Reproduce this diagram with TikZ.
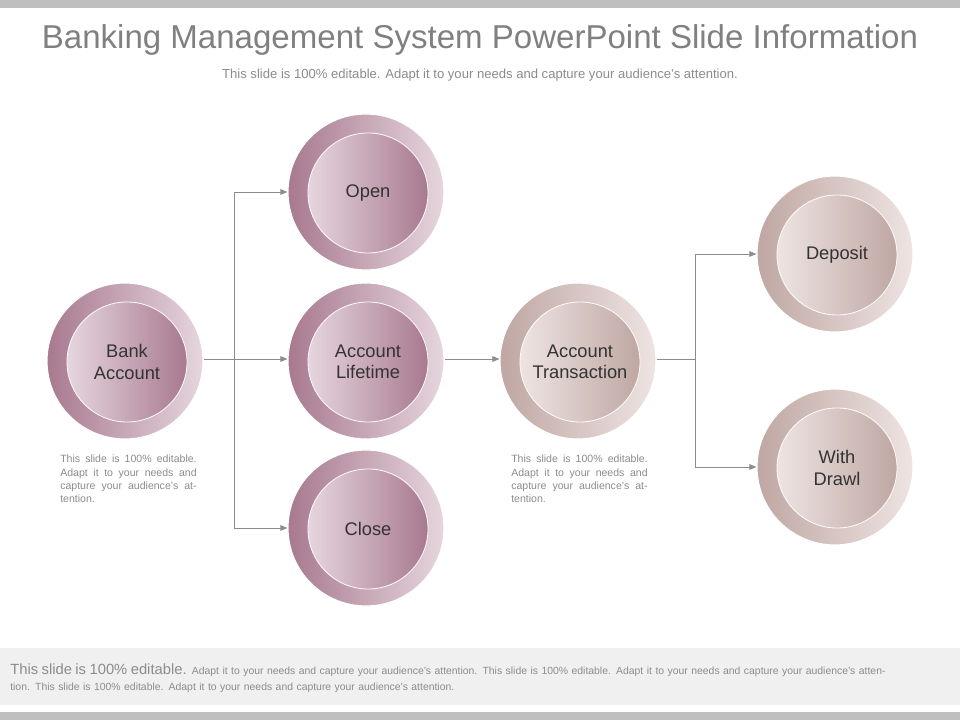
\documentclass[tikz,border=0pt]{standalone}
\usepackage{fontspec}
\setmainfont{Liberation Sans}
\usetikzlibrary{positioning}
\usetikzlibrary{arrows.meta}
\definecolor{plumD}{HTML}{A8798F}
\definecolor{plumL}{HTML}{E6D6DE}
\definecolor{tanD}{HTML}{BFA7A3}
\definecolor{tanL}{HTML}{EEE4E2}
\definecolor{txtG}{HTML}{8C8C8C}
\tikzstyle{ringP}=[circle, minimum size=156*0.025cm, draw=white, line width=0.8pt, left color=plumD, right color=plumL]
\tikzstyle{coreP}=[circle, minimum size=120*0.025cm, draw=white!80!plumL, line width=0.6pt, left color=plumL, right color=plumD, align=center, font=\fontsize{13}{15}\selectfont, text=black!80]
\tikzstyle{ringT}=[circle, minimum size=156*0.025cm, draw=white, line width=0.8pt, left color=tanD, right color=tanL]
\tikzstyle{coreT}=[circle, minimum size=120*0.025cm, draw=white!80!tanL, line width=0.6pt, left color=tanL, right color=tanD, align=center, font=\fontsize{13}{15}\selectfont, text=black!80]
\tikzstyle{link}=[draw=black!45, line width=0.6pt]
\tikzstyle{larrow}=[link, -{Triangle[length=5pt,width=4pt]}]
\tikzstyle{note}=[text width=97pt, align=justify, font=\fontsize{7.5}{9.5}\selectfont, text=txtG, inner sep=0pt]

\begin{document}
\begin{tikzpicture}[x=0.025cm, y=-0.025cm]
      \useasboundingbox (0,0) rectangle (960,720);
      \fill[white] (0,0) rectangle (960,720);
      \fill[black!25] (0,0) rectangle (960,8);
      \fill[black!25] (0,712) rectangle (960,720);
      \fill[black!6] (0,648) rectangle (960,705);
      % heading
      \node (title) at (480,40) {\fontsize{23.5}{28}\selectfont\color{black!50}Banking Management System PowerPoint Slide Information};
      \node (sub) at (480,75) {\fontsize{9.3}{11}\selectfont\color{txtG}This slide is 100\% editable. Adapt it to your needs and capture your audience's attention.};
      % circles
      \node[ringP] (bankR) at (125,361) {};
      \node[coreP] (bank) at (127,362) {Bank\\Account};
      \node[ringP] (openR) at (366,192) {};
      \node[coreP] (open) at (368,193) {Open};
      \node[ringP] (lifeR) at (366,361) {};
      \node[coreP] (life) at (368,362) {Account\\Lifetime};
      \node[ringP] (closeR) at (366,528) {};
      \node[coreP] (close) at (368,529) {Close};
      \node[ringT] (transR) at (578,361) {};
      \node[coreT] (trans) at (580,362) {Account\\Transaction};
      \node[ringT] (depR) at (835,254) {};
      \node[coreT] (dep) at (837,255) {Deposit};
      \node[ringT] (drawlR) at (835,467) {};
      \node[coreT] (drawl) at (837,468) {With\\Drawl};
      % links
      \coordinate (fork1) at (234,359);
      \coordinate (fork2) at (695,359);
      \draw[link] (bankR.east |- fork1) -- (fork1);
      \draw[larrow] (fork1) |- (openR.west);
      \draw[larrow] (fork1) -- (lifeR.west |- fork1);
      \draw[larrow] (fork1) |- (closeR.west);
      \draw[larrow] (lifeR.east |- fork1) -- (transR.west |- fork1);
      \draw[link] (transR.east |- fork1) -- (fork2);
      \draw[larrow] (fork2) |- (depR.west);
      \draw[larrow] (fork2) |- (drawlR.west);
      % notes
      \node[note, anchor=north west] (note1) at (60,455) {This slide is 100\% editable. Adapt it to your needs and capture your audience's attention.};
      \node[note, anchor=north west] (note2) at (511,455) {This slide is 100\% editable. Adapt it to your needs and capture your audience's attention.};
      % footer
      \node[anchor=north west, text width=890*0.025cm, align=left, inner sep=0pt, text=txtG, font=\fontsize{7.4}{11}\selectfont] (foot) at (10,664) {{\fontsize{10.5}{11}\selectfont This slide is 100\% editable.} Adapt it to your needs and capture your audience's attention. This slide is 100\% editable. Adapt it to your needs and capture your audience's attention. This slide is 100\% editable. Adapt it to your needs and capture your audience's attention.};
\end{tikzpicture}
\end{document}
